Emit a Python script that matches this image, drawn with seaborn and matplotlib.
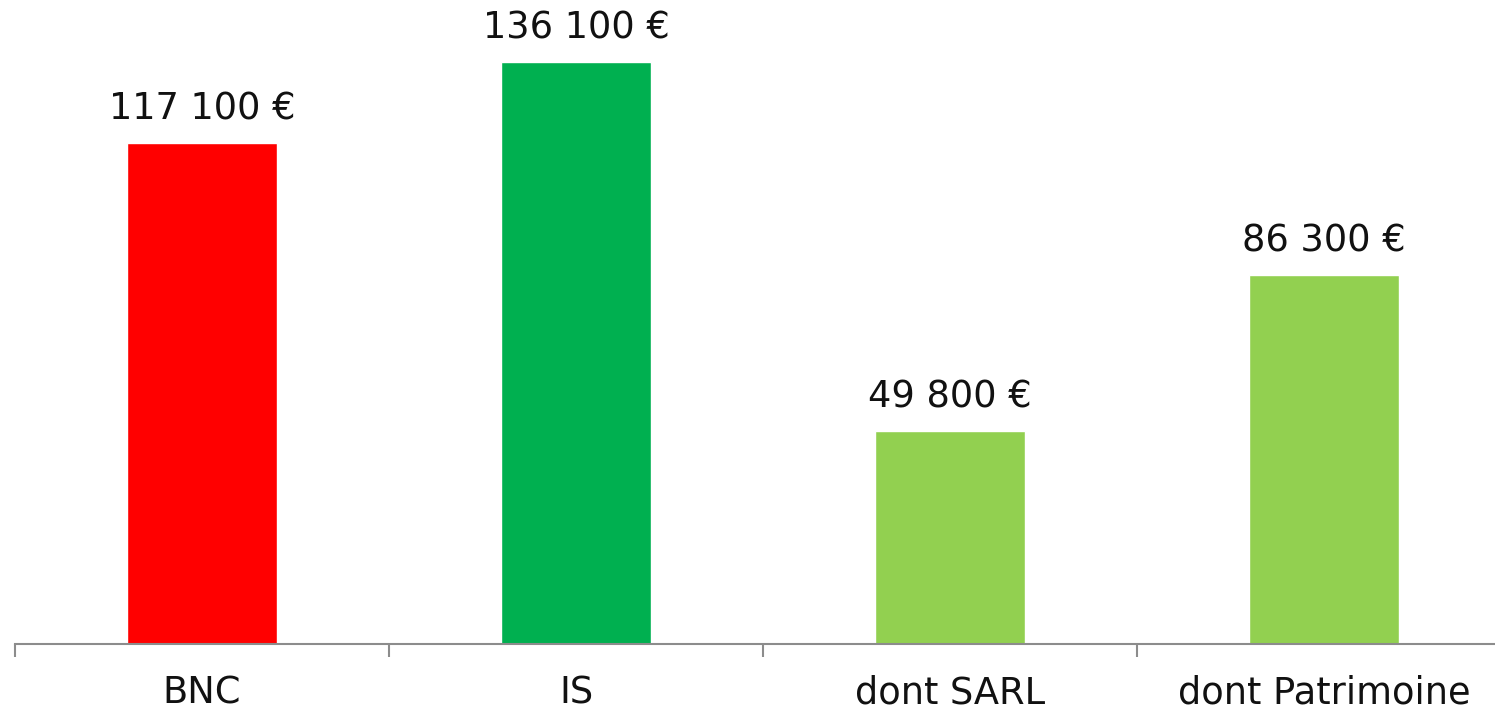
import matplotlib
matplotlib.use("Agg")
import matplotlib.pyplot as plt
import seaborn as sns
import pandas as pd
import numpy as np

categories = ["BNC", "IS", "dont SARL", "dont Patrimoine"]
values = [117100, 136100, 49800, 86300]
labels = ["117 100 €", "136 100 €", "49 800 €", "86 300 €"]
colors = ["#FF0000", "#00B050", "#92D050", "#92D050"]

df = pd.DataFrame({"cat": categories, "val": values})

sns.set_style("white")
plt.rcParams["font.family"] = ["DejaVu Sans"]

fig = plt.figure(figsize=(14.95, 7.15), dpi=100)
ax = fig.add_axes([15 / 1495, 71 / 715, 1 - 15 / 1495, 644 / 715])

sns.barplot(data=df, x="cat", y="val", hue="cat", palette=colors,
            width=0.4, legend=False, ax=ax, saturation=1)

# value labels above bars
for i, (v, lab) in enumerate(zip(values, labels)):
    ax.annotate(lab, xy=(i, v), xytext=(0, 11), textcoords="offset points",
                ha="center", va="bottom", fontsize=26.5, color="#111111")

ax.set_ylim(0, 150600)
ax.set_xlim(-0.5, 3.457)

for s in ["top", "right", "left"]:
    ax.spines[s].set_visible(False)
ax.spines["bottom"].set_color("#8c8c8c")
ax.spines["bottom"].set_linewidth(1.5)
ax.set_yticks([])

# boundary ticks (major) and labels on minor ticks at bar centers
ax.set_xticks(np.arange(len(categories)) - 0.5)
ax.set_xticklabels([])
ax.set_xticks(np.arange(len(categories)), minor=True)
ax.set_xticklabels(categories, minor=True, fontsize=26.5, color="#111111")
ax.tick_params(axis="x", which="major", length=9, width=1.5, color="#8c8c8c", bottom=True)
ax.tick_params(axis="x", which="minor", length=0, pad=22)
ax.set_xlabel("")
ax.set_ylabel("")

fig.savefig("out.png", dpi=100)
